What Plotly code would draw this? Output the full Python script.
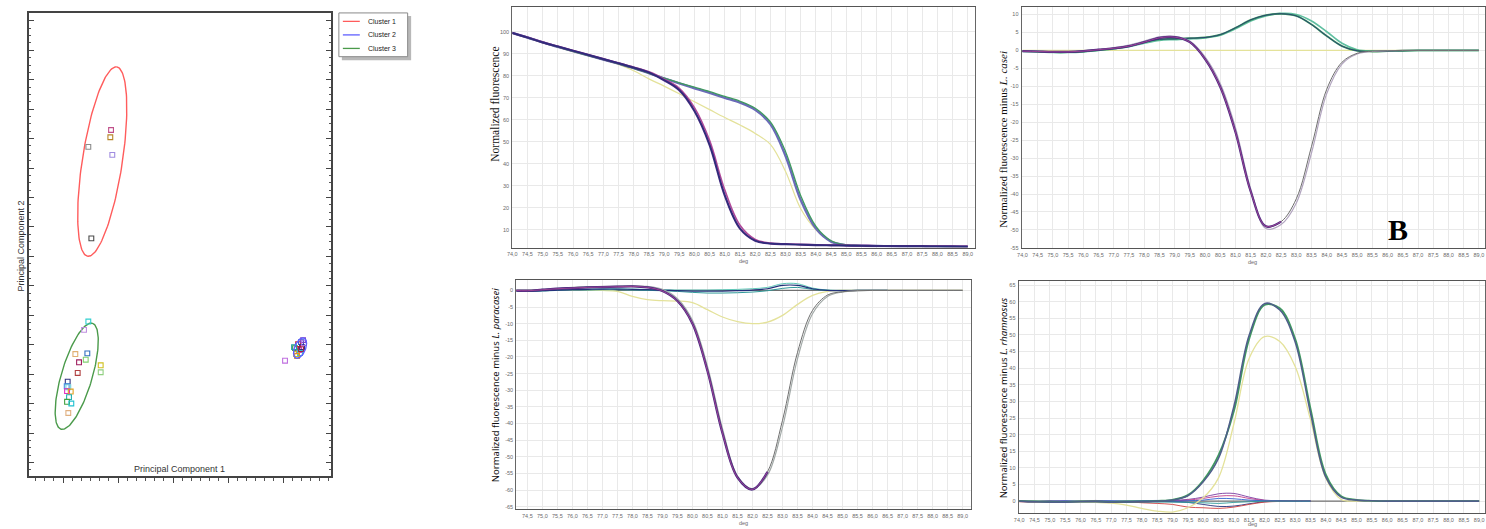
import numpy as np
import plotly.graph_objects as go

W, H = 1486, 529

# ---------------- PCA data (PC1, PC2 scores) ----------------
c1_x = [-1.127, -1.140, -1.540, -1.104, -1.485]
c1_y = [4.294, 4.047, 3.720, 3.449, 0.611]
c1_col = ["#c0508a", "#b8862a", "#8c8c8c", "#a08ce0", "#4a4a4a"]

c3_x = [-1.540, -1.618, -1.776, -1.558, -1.587, -1.709, -1.315, -1.315, -1.733,
        -1.915, -1.933, -1.904, -1.927, -1.860, -1.891, -1.927, -1.849, -1.904]
c3_y = [-2.213, -2.497, -3.318, -3.294, -3.510, -3.598, -3.699, -3.936, -3.959,
        -4.253, -4.409, -4.443, -4.578, -4.591, -4.780, -4.939, -4.997, -5.321]
c3_col = ["#30d0d0", "#c090e0", "#e0b070", "#3070c0", "#80d070", "#a02060", "#d0c020",
          "#90d080", "#b04040", "#303080", "#4090e0", "#70d0e0", "#e030c0", "#e0a020",
          "#20b0b0", "#40a040", "#20c0d0", "#e0b080"]

c2_x = [2.218, 2.273, 2.327, 2.364, 2.291, 2.236, 2.345, 2.309, 2.255, 2.382, 2.327, 2.200, 2.036]
c2_y = [-3.115, -2.980, -2.912, -2.845, -3.182, -3.318, -3.081, -3.284, -3.385, -2.946, -3.149, -3.081, -3.544]
c2_col = ["#40a040", "#d03030", "#3050d0", "#8040c0", "#d040b0", "#d0c020", "#303080",
          "#30c0d0", "#e09020", "#b070e0", "#a02040", "#20a0a0", "#c070e0"]

# confidence ellipses: centre, first and second semi-axis vectors
ell_names = ["Cluster 1", "Cluster 2", "Cluster 3"]
ell_colors = ["#ff5c5c", "#6060ff", "#4a9a4a"]
ell_center = [(-1.287, 3.22), (2.309, -3.115), (-1.751, -4.071)]
ell_u = [(0.264, 3.216), (0.073, 0.338), (0.285, 1.80)]
ell_v = [(0.36, -0.10), (0.093, -0.069), (0.269, -0.147)]

# ---------------- melt curve data ----------------
T = [74.0, 74.5, 75.0, 75.5, 76.0, 76.5, 77.0, 77.5, 78.0, 78.5, 79.0, 79.5, 80.0, 80.5, 81.0,
     81.5, 82.0, 82.5, 83.0, 83.5, 84.0, 84.5, 85.0, 85.5, 86.0, 86.5, 87.0, 87.5, 88.0, 88.5, 89.0]
ZERO = [0.0, 0.0, 0.0, 0.0, 0.0, 0.0, 0.0, 0.0, 0.0, 0.0, 0.0, 0.0, 0.0, 0.0, 0.0,
        0.0, 0.0, 0.0, 0.0, 0.0, 0.0, 0.0, 0.0, 0.0, 0.0, 0.0, 0.0, 0.0, 0.0, 0.0, 0.0]

# Panel 1: normalized fluorescence
a1_low_1 = [99.5, 97.4, 95.2, 93.3, 91.4, 89.5, 87.6, 85.7, 83.7, 81.5, 78.0, 73.5, 64.0, 48.5, 25.5,
            10.5, 5.0, 3.7, 3.4, 3.2, 3.0, 2.9, 2.8, 2.7, 2.6, 2.6, 2.5, 2.5, 2.4, 2.4, 2.3]
a1_low_2 = [99.5, 97.5, 95.3, 93.4, 91.5, 89.6, 87.7, 85.8, 83.9, 81.8, 78.5, 74.3, 65.5, 50.5, 28.0,
            12.0, 5.6, 3.9, 3.5, 3.3, 3.1, 3.0, 2.9, 2.8, 2.7, 2.6, 2.6, 2.5, 2.5, 2.4, 2.4]
a1_high_1 = [99.5, 97.4, 95.2, 93.2, 91.2, 89.3, 87.4, 85.5, 83.5, 81.2, 78.8, 76.5, 74.3, 72.2, 70.0,
             67.8, 64.5, 58.0, 43.5, 23.5, 10.5, 4.6, 3.0, 2.7, 2.6, 2.5, 2.5, 2.4, 2.4, 2.3, 2.3]
a1_high_2 = [99.4, 97.3, 95.1, 93.1, 91.1, 89.2, 87.3, 85.4, 83.4, 81.1, 78.9, 76.8, 74.8, 72.8, 70.6,
             68.4, 65.2, 59.0, 45.5, 25.5, 11.5, 5.0, 3.1, 2.8, 2.6, 2.5, 2.5, 2.4, 2.4, 2.3, 2.3]
a1_yel = [99.5, 97.3, 95.0, 93.0, 91.0, 89.2, 87.3, 85.2, 82.3, 78.6, 75.3, 71.8, 68.2, 64.6, 61.0,
          57.6, 53.8, 48.8, 36.5, 19.5, 10.0, 4.8, 3.0, 2.6, 2.5, 2.4, 2.4, 2.3, 2.3, 2.2, 2.2]

# Panel 2: minus L. casei
b1_low_1 = [-0.2, -0.3, -0.4, -0.4, -0.2, 0.2, 0.6, 1.2, 2.3, 3.5, 3.7, 2.3, -2.4, -10.2, -22.8,
            -39.3, -49.0, -47.7, -41.3, -26.7, -10.8, -3.3, -0.8, -0.2, -0.1, 0.0, 0.0, 0.0, 0.0, 0.0, 0.0]
b1_low_2 = [-0.1, -0.2, -0.3, -0.3, -0.1, 0.3, 0.8, 1.5, 2.6, 3.8, 3.9, 2.6, -1.8, -9.2, -21.5,
            -38.5, -49.6, -48.5, -42.5, -28.5, -12.0, -3.8, -1.0, -0.3, -0.1, 0.0, 0.0, 0.0, 0.0, 0.0, 0.0]
b1_up_1 = [-0.2, -0.3, -0.5, -0.5, -0.3, 0.1, 0.5, 1.2, 2.3, 3.1, 3.2, 3.4, 3.6, 4.4, 6.3,
           8.5, 9.8, 10.2, 9.6, 7.2, 4.0, 1.2, -0.1, -0.3, -0.2, -0.1, 0.0, 0.0, 0.0, 0.0, 0.0]
b1_up_2 = [-0.3, -0.4, -0.6, -0.6, -0.4, 0.0, 0.4, 1.0, 2.0, 2.8, 3.0, 3.2, 3.5, 4.2, 6.0,
           8.2, 9.6, 10.3, 10.0, 8.2, 5.2, 2.0, 0.2, -0.2, -0.2, -0.1, 0.0, 0.0, 0.0, 0.0, 0.0]

# Panel 3: minus L. paracasei
a2_low_1 = [0.0, -0.1, 0.2, 0.5, 0.7, 0.9, 1.0, 1.1, 1.2, 0.9, -0.2, -3.2, -10.0, -24.2, -42.9,
            -56.2, -59.8, -54.5, -39.0, -18.6, -6.0, -1.4, -0.4, -0.1, 0.0, 0.0, 0.0, 0.0, 0.0, 0.0, 0.0]
a2_low_2 = [0.1, 0.0, 0.3, 0.6, 0.9, 1.1, 1.2, 1.3, 1.4, 1.2, 0.3, -2.5, -9.0, -22.8, -41.5,
            -55.8, -59.6, -55.5, -41.0, -20.5, -7.0, -1.8, -0.5, -0.1, 0.0, 0.0, 0.0, 0.0, 0.0, 0.0, 0.0]
a2_up_1 = [0.0, -0.2, -0.1, 0.1, 0.2, 0.3, 0.4, 0.4, 0.3, 0.2, 0.1, -0.1, -0.2, -0.2, -0.2,
           -0.1, 0.1, 0.5, 1.5, 1.5, 0.5, 0.0, -0.1, 0.0, 0.0, 0.0]
a2_up_2 = [-0.1, -0.3, -0.2, 0.0, 0.1, 0.1, 0.2, 0.2, 0.1, 0.0, -0.1, -0.3, -0.6, -0.8, -0.8,
           -0.7, -0.5, -0.1, 0.6, 0.9, 0.3, 0.0, -0.1, 0.0, 0.0, 0.0]
a2_up_3 = [0.0, -0.1, 0.0, 0.2, 0.3, 0.4, 0.5, 0.5, 0.4, 0.3, 0.2, 0.1, 0.1, 0.1, 0.2,
           0.3, 0.5, 0.9, 2.0, 2.0, 0.7, 0.1, 0.0, 0.0, 0.0, 0.0]
a2_yel = [0.0, 0.0, 0.1, 0.1, 0.1, 0.1, 0.0, -0.3, -1.8, -2.8, -3.1, -3.2, -3.7, -5.8, -8.0,
          -9.4, -10.0, -9.5, -7.5, -4.2, -1.5, -0.3, 0.0, 0.0, 0.0, 0.0, 0.0, 0.0, 0.0, 0.0, 0.0]

# Panel 4: minus L. rhamnosus
b2_main_1 = [0.0, -0.2, -0.3, -0.3, -0.2, -0.2, -0.3, -0.2, -0.2, 0.0, 0.3, 1.6, 5.8, 12.9, 28.4,
             49.9, 59.4, 57.5, 47.9, 26.5, 7.2, 1.2, 0.3, 0.1, 0.0, 0.0, 0.0, 0.0, 0.0, 0.0, 0.0]
b2_main_2 = [0.1, -0.1, -0.2, -0.2, -0.1, -0.1, -0.2, -0.1, -0.1, 0.1, 0.4, 1.8, 6.2, 13.8, 27.0,
             48.8, 59.0, 58.0, 48.8, 27.8, 8.0, 1.5, 0.4, 0.1, 0.0, 0.0, 0.0, 0.0, 0.0, 0.0, 0.0]
b2_yel = [0.0, -0.1, -0.2, -0.3, -0.3, -0.4, -0.6, -1.2, -2.2, -3.0, -3.3, -2.0, 1.0, 7.0, 23.2,
          43.0, 49.5, 48.0, 40.5, 24.5, 6.9, 0.5, 0.0, 0.0, 0.0, 0.0, 0.0, 0.0, 0.0, 0.0, 0.0]
b2_small = [
    [0.0, -0.2, 0.1, -0.1, 0.0, 0.2, -0.1, -0.3, 0.1, -0.2, 0.2, 0.5, 1.2, 2.2, 2.3, 1.2, 0.3, 0.1, 0.0, 0.0],
    [-0.1, -0.3, -0.2, 0.0, -0.2, 0.0, -0.3, -0.1, -0.2, 0.0, 0.1, 0.3, 0.8, 1.5, 1.6, 0.8, 0.2, 0.0, 0.0, 0.0],
    [0.0, -0.1, -0.3, -0.2, -0.1, -0.3, -0.2, -0.4, -0.3, -0.1, -0.2, -0.4, -1.0, -1.6, -1.5, -0.8, -0.2, 0.0, 0.0, 0.0],
    [-0.2, -0.2, -0.1, -0.3, -0.2, -0.1, -0.4, -0.2, -0.5, -0.7, -1.0, -1.8, -2.0, -2.2, -1.8, -1.0, -0.3, -0.1, 0.0, 0.0],
    [0.1, 0.0, -0.1, 0.1, -0.1, 0.0, 0.1, 0.0, 0.1, 0.2, 0.0, 0.1, 0.3, 0.8, 0.7, 0.3, 0.1, 0.0, 0.0, 0.0],
    [-0.1, -0.2, 0.0, -0.2, -0.3, -0.2, -0.1, -0.3, -0.2, -0.3, -0.3, -0.4, -0.5, -0.7, -0.4, -0.2, 0.0, 0.0, 0.0, 0.0],
]
b2_small_col = ["#7a3aa0", "#c03a8a", "#23307a", "#d04040", "#3060d0", "#2f9a9a"]

# tick labels
XTICKS = T
XTICK_TEXT = [f"{v:.1f}".replace(".", ",") for v in XTICKS]
Y1_TICKS = [10, 20, 30, 40, 50, 60, 70, 80, 90, 100]
Y2_TICKS = [-55, -50, -45, -40, -35, -30, -25, -20, -15, -10, -5, 0, 5, 10]
Y3_TICKS = [-65, -60, -55, -50, -45, -40, -35, -30, -25, -20, -15, -10, -5, 0]
Y4_TICKS = [0, 5, 10, 15, 20, 25, 30, 35, 40, 45, 50, 55, 60, 65]

PURPLE, NAVY, MAGENTA, TEAL = "#4a2a80", "#23307a", "#b04a9a", "#2f9a9a"
GREEN, BVIOLET, YELLOW, GREF = "#3f9a5f", "#6b6bb8", "#e4e29a", "#707070"

fig = go.Figure()

# ---------------- PCA panel ----------------
def ellipse_trace(k):
    t = np.linspace(0, 2 * np.pi, 160)
    c, u, v = ell_center[k], ell_u[k], ell_v[k]
    ex = c[0] + u[0] * np.cos(t) + v[0] * np.sin(t)
    ey = c[1] + u[1] * np.cos(t) + v[1] * np.sin(t)
    fig.add_trace(go.Scatter(x=ex, y=ey, mode="lines", name=ell_names[k], showlegend=False,
                             line=dict(color=ell_colors[k], width=1.4), xaxis="x", yaxis="y"))


ellipse_trace(0)
ellipse_trace(2)
for xs, ys, cols in [(c1_x, c1_y, c1_col), (c3_x, c3_y, c3_col), (c2_x, c2_y, c2_col)]:
    fig.add_trace(go.Scatter(x=xs, y=ys, mode="markers", showlegend=False,
                             marker=dict(symbol="square-open", size=4.8, color=cols,
                                         line=dict(width=1.1, color=cols)),
                             xaxis="x", yaxis="y"))
ellipse_trace(1)


def line(xa, ya, xs, ys, col, w):
    fig.add_trace(go.Scatter(x=xs, y=ys, mode="lines", showlegend=False,
                             line=dict(color=col, width=w, shape="spline", smoothing=1.0),
                             xaxis=xa, yaxis=ya, hoverinfo="skip"))


# panel A1
line("x2", "y2", T, a1_yel, YELLOW, 1.2)
line("x2", "y2", T, a1_high_1, BVIOLET, 2.4)
line("x2", "y2", T, a1_high_2, GREEN, 1.3)
line("x2", "y2", T, a1_low_2, MAGENTA, 1.6)
line("x2", "y2", T, a1_low_1, PURPLE, 2.2)
line("x2", "y2", T, a1_low_1, NAVY, 0.9)

# panel B1 (descending flank coloured, rising flank grey as in the instrument plot)
line("x3", "y3", T, ZERO, YELLOW, 1.2)
line("x3", "y3", T, b1_up_2, "#5fbfa0", 1.6)
line("x3", "y3", T, b1_up_1, GREEN, 1.8)
line("x3", "y3", T, b1_up_1, NAVY, 0.8)
line("x3", "y3", T, b1_low_2, "#b3a6c0", 1.2)
line("x3", "y3", T, b1_low_1, "#6e6e6e", 1.0)
line("x3", "y3", T[:18], b1_low_1[:18], PURPLE, 2.2)
line("x3", "y3", T[:18], b1_low_1[:18], MAGENTA, 0.8)

# panel A2
line("x4", "y4", T, ZERO, GREF, 1.2)
line("x4", "y4", T, a2_yel, YELLOW, 1.3)
line("x4", "y4", T[:26], a2_up_3, "#60c8b8", 1.0)
line("x4", "y4", T[:26], a2_up_2, TEAL, 1.0)
line("x4", "y4", T[:26], a2_up_1, NAVY, 1.2)
line("x4", "y4", T, a2_low_2, "#a3aaa8", 1.2)
line("x4", "y4", T, a2_low_1, "#6e6e6e", 1.0)
line("x4", "y4", T[:18], a2_low_1[:18], PURPLE, 2.3)
line("x4", "y4", T[:18], a2_low_1[:18], MAGENTA, 0.8)

# panel B2
line("x5", "y5", T, ZERO, GREF, 1.2)
for ys, col in zip(b2_small, b2_small_col):
    line("x5", "y5", T[:20], ys, col, 0.9)
line("x5", "y5", T, b2_yel, YELLOW, 1.3)
line("x5", "y5", T, b2_main_2, GREEN, 1.8)
line("x5", "y5", T, b2_main_1, "#4f5f8a", 1.6)

# ---------------- layout ----------------
def px_x(p):
    return p / W


def px_y(p):
    return 1 - p / H


tickfont = dict(family="Liberation Sans", size=5.5, color="#6a6a6a")


def melt_x(dom, rng, anchor):
    return dict(domain=[px_x(dom[0]), px_x(dom[1])], range=rng, anchor=anchor,
                tickmode="array", tickvals=XTICKS, ticktext=XTICK_TEXT, tickfont=tickfont,
                showgrid=True, gridcolor="#e9e9e9", gridwidth=1, zeroline=False,
                showline=True, linecolor="#555555", linewidth=1.2, mirror=True, ticks="",
                ticklabelstandoff=1)


def melt_y(dom, rng, anchor, vals):
    return dict(domain=[px_y(dom[1]), px_y(dom[0])], range=rng, anchor=anchor,
                tickmode="array", tickvals=vals, ticktext=[str(v) for v in vals], tickfont=tickfont,
                showgrid=True, gridcolor="#e9e9e9", gridwidth=1, zeroline=False,
                showline=True, linecolor="#666666", linewidth=1.0, mirror=True, ticks="",
                ticklabelstandoff=1)


layout = dict(
    width=W, height=H, autosize=False,
    margin=dict(l=0, r=0, t=0, b=0),
    paper_bgcolor="white", plot_bgcolor="white",
    font=dict(family="Liberation Sans", color="#222"),
    showlegend=False,
    xaxis=dict(domain=[px_x(24), px_x(327)], range=[-2.62, 2.87], anchor="y",
               showgrid=False, zeroline=False, showticklabels=False,
               ticks="outside", ticklen=5, tickcolor="#444", dtick=1, tick0=0,
               minor=dict(ticks="outside", ticklen=2.5, dtick=1 / 6, tickcolor="#555", showgrid=False),
               showline=True, linecolor="#444", linewidth=1.5, mirror=True),
    yaxis=dict(domain=[px_y(479), px_y(13)], range=[-7.47, 8.27], anchor="x",
               showgrid=False, zeroline=False, showticklabels=False,
               ticks="inside", ticklen=5, tickcolor="#444", dtick=1, tick0=0,
               minor=dict(ticks="inside", ticklen=2.5, dtick=0.25, tickcolor="#555", showgrid=False),
               showline=True, linecolor="#444", linewidth=1.5, mirror="ticks"),
    xaxis2=melt_x((509, 973), [74.0, 89.23], "y2"),
    yaxis2=melt_y((7, 249), [1.87, 111.3], "x2", Y1_TICKS),
    xaxis3=melt_x((1020, 1485), [73.97, 89.2], "y3"),
    yaxis3=melt_y((7, 249.3), [-55.0, 12.1], "x3", Y2_TICKS),
    xaxis4=melt_x((513, 969), [74.13, 89.27], "y4"),
    yaxis4=melt_y((282, 512), [-65.7, 3.0], "x4", Y3_TICKS),
    xaxis5=melt_x((1017, 1485), [73.98, 89.19], "y5"),
    yaxis5=melt_y((283, 516), [-3.6, 66.1], "x5", Y4_TICKS),
)
fig.update_layout(**layout)

# custom legend box for the PCA clusters (shadow, frame, line samples)
shapes = []
shapes.append(dict(type="rect", xref="paper", yref="paper",
                   x0=px_x(338), x1=px_x(407.5), y0=px_y(60.5), y1=px_y(16),
                   fillcolor="#b8b8b8", line=dict(width=0), layer="above"))
shapes.append(dict(type="rect", xref="paper", yref="paper",
                   x0=px_x(335), x1=px_x(404), y0=px_y(57), y1=px_y(13),
                   fillcolor="white", line=dict(width=1, color="#8a8a8a"), layer="above"))
ann = []
for i, (name, col) in enumerate(zip(ell_names, ell_colors)):
    yy = 21.5 + i * 13.6
    shapes.append(dict(type="line", xref="paper", yref="paper",
                       x0=px_x(339), x1=px_x(356), y0=px_y(yy), y1=px_y(yy),
                       line=dict(color=col, width=1.3), layer="above"))
    ann.append(dict(text=name, x=px_x(362), y=px_y(yy), xref="paper", yref="paper",
                    xanchor="left", yanchor="middle", showarrow=False,
                    font=dict(size=7, family="Liberation Sans", color="#222")))
fig.update_layout(shapes=shapes)


def label(text, x, y, size, family, color="#111", angle=0):
    ann.append(dict(text=text, x=px_x(x), y=px_y(y), xref="paper", yref="paper",
                    xanchor="center", yanchor="middle", textangle=angle, showarrow=False,
                    font=dict(size=size, family=family, color=color)))


serif = "Liberation Serif"
sans = "Noto Sans"
label("Principal Component 1", 175, 472, 9, "Liberation Sans", "#333")
label("Principal Component 2", 16, 247, 9, "Liberation Sans", "#333", -90)
label("Normalized fluorescence", 492, 105, 11.5, serif, "#111", -90)
label("Normalized fluorescence minus <i>L. casei</i>", 1002, 140, 11, serif, "#111", -90)
label("Normalized fluorescence minus <i>L. paracasei</i>", 492, 387, 9.5, sans, "#111", -90)
label("Normalized fluorescence minus <i>L. rhamnosus</i>", 1002, 401, 9.5, sans, "#111", -90)
for (xx, yy) in [(741, 262), (1252, 263), (741, 526), (1252, 527)]:
    label("deg", xx, yy, 5.5, "Liberation Sans", "#6a6a6a")
label("<b>B</b>", 1398, 231, 30, serif, "#000")
fig.update_layout(annotations=ann)

fig.write_html("out.html", config={"displayModeBar": False},
               post_script="document.body.style.margin='0px';document.body.style.padding='0px';")
